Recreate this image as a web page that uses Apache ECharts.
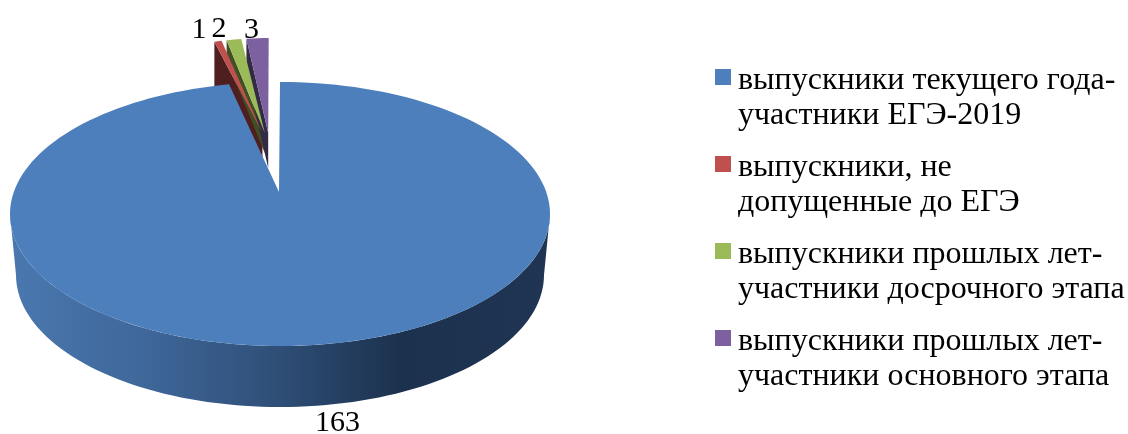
<!DOCTYPE html>
<html>
<head>
<meta charset="utf-8">
<style>html,body{margin:0;padding:0;background:#fff}#c{width:1128px;height:434px}</style>
<script src="https://cdn.jsdelivr.net/npm/echarts@6/dist/echarts.min.js"></script>
</head>
<body>
<div id="c"></div>
<script>
// Data
const categories = [
  'выпускники текущего года-\nучастники ЕГЭ-2019',
  'выпускники, не\nдопущенные до ЕГЭ',
  'выпускники прошлых лет-\nучастники досрочного этапа',
  'выпускники прошлых лет-\nучастники основного этапа'
];
const values = [163, 1, 2, 3];

// Styles
const faceColors = ['#4d7fbc', '#c0504d', '#9bbb59', '#7d60a0'];
const wallColors = ['#1d3250', '#4f1f1f', '#404f24', '#332a45'];
const FONT = '"Liberation Serif","Times New Roman",serif';

// Layout of the perspective pie
const main = {cx: 280, cy: 214, rx: 270, ry: 132, tipDx: -1, tipDy: -22, endGap: 1.9,
              botCy: 275, botRx: 264};
const small = {cx: 270, cy: 133, rx: 200, ry: 95, gap: 1.5, tipShift: 0.5, depth: [46, 20, 35]};
const labelOffsets = [[32, 78], [-19, -11], [-15, -10], [-6, -8]];

const total = values.reduce((a, b) => a + b, 0);
const toDeg = v => v / total * 360;
const rad = d => d * Math.PI / 180;

function pt(e, deg, cy, rx) {
  return [e.cx + (rx || e.rx) * Math.sin(rad(deg)), (cy === undefined ? e.cy : cy) - e.ry * Math.cos(rad(deg))];
}
function arc(e, a0, a1, cy, rx) {
  const n = Math.max(4, Math.ceil(Math.abs(a1 - a0) / 2)), out = [];
  for (let i = 0; i <= n; i++) out.push(pt(e, a0 + (a1 - a0) * i / n, cy, rx));
  return out;
}
const txt = (x, y, s) => ({type: 'text', z2: 50, style: {x, y, text: String(s), fill: '#000', font: '30px ' + FONT, align: 'center', verticalAlign: 'middle'}});

function renderMain(params, api) {
  const v = api.value(0), end = toDeg(v) + main.endGap;
  const tip = [main.cx + main.tipDx, main.cy + main.tipDy];
  const top = arc(main, 0, end);
  const wallPts = arc(main, 270, 90).concat(arc(main, 90, 270, main.botCy, main.botRx));
  const mid = pt(main, end / 2);
  return {type: 'group', children: [
    {type: 'polygon', shape: {points: wallPts}, style: {fill: new echarts.graphic.LinearGradient(0, 0, 1, 0, [
      {offset: 0, color: '#4a78af'}, {offset: 0.25, color: '#3f679a'}, {offset: 0.5, color: '#2e4e76'},
      {offset: 0.72, color: '#1c314e'}, {offset: 1, color: '#1f3553'}])}},
    {type: 'polygon', shape: {points: [tip].concat(top)}, style: {fill: faceColors[0]}},
    txt(mid[0] + labelOffsets[0][0], mid[1] + labelOffsets[0][1], v)
  ]};
}

function renderSmall(i) {
  return function (params, api) {
    const v = api.value(0);
    let before = 0;
    for (let k = i + 1; k < values.length; k++) before += toDeg(values[k]) + small.gap;
    const a0 = before + small.gap / 4, a1 = a0 + toDeg(v);
    const mid = (a0 + a1) / 2;
    const tip = [small.cx - small.tipShift * mid, small.cy];
    const outer = arc(small, -a1, -a0);
    const d = small.depth[i - 1];
    const L = outer[0];
    const wall = [L, [L[0], L[1] + d], [tip[0], tip[1] + d], tip];
    const m = pt(small, -mid);
    return {type: 'group', children: [
      {type: 'polygon', z2: 1, shape: {points: wall}, style: {fill: wallColors[i]}},
      {type: 'polygon', z2: 2, shape: {points: [tip].concat(outer)}, style: {fill: faceColors[i]}},
      txt(m[0] + labelOffsets[i][0], m[1] + labelOffsets[i][1], v)
    ]};
  };
}

const series = categories.map((name, i) => ({
  type: 'custom', name, coordinateSystem: 'none', z: i === 0 ? 3 : 2,
  silent: true, clip: false,
  itemStyle: {color: faceColors[i]},
  renderItem: i === 0 ? renderMain : renderSmall(i),
  data: [[values[i]]]
}));

const chart = echarts.init(document.getElementById('c'), null, {renderer: 'canvas'});
chart.setOption({
  animation: false,
  backgroundColor: '#fff',
  tooltip: {show: false},
  legend: {
    left: 715, top: 63, orient: 'vertical', selectedMode: false,
    data: categories, itemGap: 17, itemWidth: 18, itemHeight: 70, padding: 0,
    icon: 'path://M0,0L0,0M0,6L16,6L16,22L0,22ZM18,70L18,70',
    textStyle: {fontFamily: FONT, fontSize: 32, color: '#000', lineHeight: 35}
  },
  series
});
</script>
</body>
</html>
